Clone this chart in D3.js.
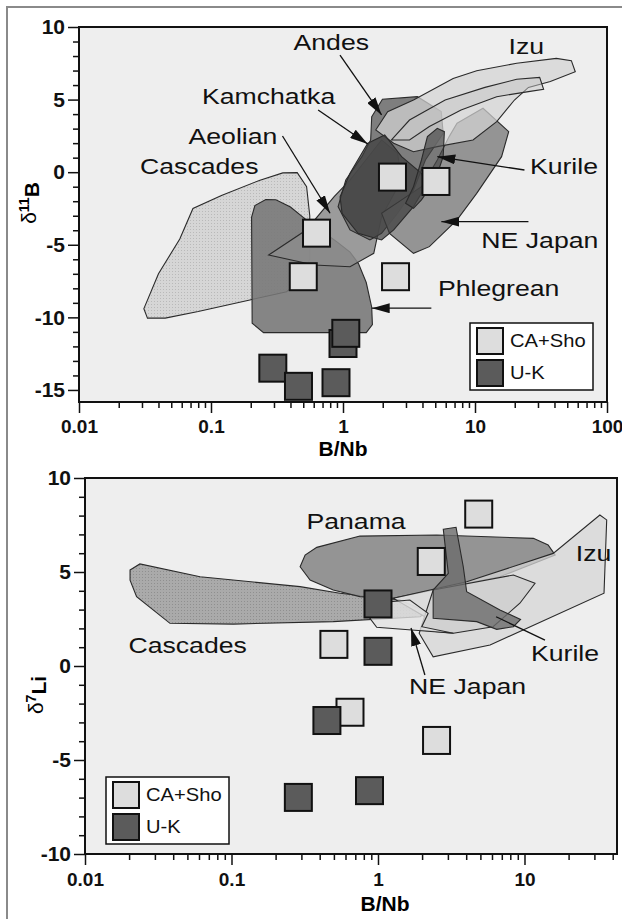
<!DOCTYPE html>
<html lang="en">
<head>
<meta charset="UTF-8">
<title>B/Nb vs d11B and d7Li</title>
<style>
    body { margin: 0; background: #fff; }
    svg { display: block; font-family: "Liberation Sans", Arial, sans-serif; }
    .field { stroke: #2a2a2a; stroke-width: 1.1; }
    .sq { stroke: #111; stroke-width: 2; }
    .caSho { fill: #dddddd; }
    .uK { fill: #5b5b5b; }
    .arrow { stroke: #111; stroke-width: 1.3; fill: none; }
    .tick line { stroke: #111; stroke-width: 1.5; }
    .tick text { font-weight: bold; fill: #111; }
</style>
</head>
<body>
<script src="https://d3js.org/d3.v7.min.js"></script>
<script>

// ---------- top panel: B/Nb vs d11B ----------
var boronCaSho = [[2.37, -0.34], [5.06, -0.64], [0.63, -4.2], [0.50, -7.2], [2.5, -7.2]];
var boronUK = [[1.0, -11.8], [1.05, -11.1], [0.294, -13.5], [0.46, -14.75], [0.885, -14.5]];

var bCascades = [[0.033,-10.05],[0.031,-9.4],[0.040,-7.0],[0.058,-4.6],[0.073,-2.5],[0.12,-1.6],[0.235,-0.55],[0.35,-0.05],[0.45,-0.03],[0.53,-1.0],[0.56,-3.0],[0.56,-6.0],[0.45,-7.6],[0.374,-8.23],[0.197,-8.8],[0.08,-9.6],[0.045,-10.05]];
var bPhlegrean = [[0.203,-3.1],[0.215,-2.3],[0.26,-1.88],[0.31,-1.9],[0.4,-2.4],[0.53,-3.3],[0.9,-4.8],[1.13,-5.5],[1.31,-6.3],[1.5,-7.6],[1.65,-9.3],[1.67,-10.5],[1.5,-11.05],[0.25,-11.05],[0.205,-10.4]];
var bAeolian = [[0.2735,-5.7],[0.527,-3.98],[0.857,-1.69],[1.13,-0.54],[1.49,0.84],[1.96,2.22],[2.59,1.3],[2.78,-0.54],[1.96,-3.06],[1.71,-5.59],[1.13,-6.51],[0.605,-6.39]];
var bAndes = [[1.65,3.82],[1.99,5.02],[3.66,5.2],[5.55,4.17],[5.74,2.68],[4.21,0.84],[3.42,-1.23],[2.59,-2.83],[1.96,-4.21],[1.6,-4.67],[1.13,-3.98],[0.918,-2.37],[1.05,-0.54],[1.39,1.07],[1.62,2.22]];
var bNEJapan = [[7.31,3.37],[11.5,4.4],[18.0,2.79],[15.9,1.07],[10.3,-1.46],[7.31,-3.29],[4.51,-5.13],[3.42,-5.59],[2.25,-4.21],[1.96,-2.83],[2.78,-1.91],[3.93,-1.0],[5.18,0.84],[6.37,2.45]];
var bIzu = [[1.77,2.91],[2.18,4.17],[3.42,4.97],[6.83,6.46],[10.3,6.99],[20.7,7.5],[41.3,7.84],[53.7,7.68],[57.5,6.92],[37.2,6.24],[25.4,5.84],[19.9,4.97],[14.6,3.48],[9.66,2.22],[5.18,1.76],[3.42,1.41],[2.42,1.99]];
var bIzuInner = [[2.33,2.22],[3.19,3.59],[5.94,4.97],[11.9,5.84],[20.7,6.4],[30.9,6.53],[33.1,5.71],[25.4,5.55],[14.6,5.2],[7.84,4.28],[4.51,3.14],[3.19,2.22]];
var bKamchatka = [[1.54,1.99],[2.07,2.56],[2.78,1.07],[3.93,-0.08],[4.21,-1.0],[3.42,-2.37],[2.42,-3.98],[1.96,-4.67],[1.3,-4.21],[0.984,-2.83],[0.95,-1.69],[1.13,-0.08]];
var bKurile = [[3.93,0.84],[4.36,2.45],[5.18,3.02],[5.86,2.79],[5.74,1.07],[5.0,-0.54],[3.93,-1.91],[3.42,-2.49],[2.98,-2.14],[3.42,-1.0]];

var bLabels = ["Izu", "Andes", "Kamchatka", "Aeolian", "Cascades", "Kurile", "NE Japan", "Phlegrean"];
var bLabelAt = [[24.5,8.64],[0.815,8.92],[0.273,5.2],[0.1466,2.49],[0.0815,0.38],[47.2,0.44],[31.0,-4.67],[15.1,-8.03]];
var bArrowFrom = [[0.949,8.07],[0.648,4.28],[0.348,2.49],[23.7,0.15],[25.4,-3.41],[4.67,-9.37]];
var bArrowTo = [[1.96,3.94],[1.54,1.94],[0.798,-2.83],[5.18,1.07],[5.56,-3.41],[1.65,-9.37]];

// ---------- bottom panel: B/Nb vs d7Li ----------
var lithiumCaSho = [[4.87, 8.08], [2.31, 5.56], [0.50, 1.15], [0.644, -2.46], [2.51, -3.96]];
var lithiumUK = [[1.0, 3.3], [1.0, 0.78], [0.448, -2.9], [0.286, -6.99], [0.875, -6.63]];

var lCascades = [[0.0203,5.11],[0.0237,5.43],[0.061,4.75],[0.294,4.22],[0.55,3.87],[1.41,3.51],[2.15,2.89],[1.94,2.62],[0.495,2.36],[0.103,2.23],[0.038,2.27],[0.0225,3.69],[0.0203,4.57]];
var lPanama = [[0.294,5.28],[0.318,5.9],[0.382,6.31],[0.753,6.91],[2.52,6.97],[11.5,6.79],[14.5,6.44],[16.2,5.9],[6.8,4.75],[2.38,4.04],[1.27,3.6],[0.753,3.69],[0.495,4.04],[0.344,4.57]];
var lIzu = [[1.27,3.6],[4.03,4.48],[15.7,5.99],[32.7,8.03],[36.4,7.77],[34.9,3.87],[5.82,1.12],[2.38,0.49],[1.91,1.74],[2.09,2.62]];
var lKurile = [[2.38,4.04],[8.4,4.84],[11.8,4.4],[9.3,3.34],[6.1,2.09],[3.27,1.74],[1.94,1.91]];
var lNEJapan = [[0.881,2.54],[1.21,3.42],[1.65,3.51],[2.2,2.8],[1.99,2.09],[3.27,1.74],[0.98,2.06]];
var lKurileDark = [[2.79,7.27],[3.41,7.38],[3.82,5.28],[4.03,3.95],[6.8,2.98],[9.4,2.48],[8.4,2.09],[6.46,1.95],[4.72,2.36],[2.38,2.54],[2.38,4.04],[3.02,4.93]];

var lLabels = ["Panama", "Izu", "Cascades", "Kurile", "NE Japan"];
var lLabelAt = [[0.708,7.68],[29.6,6.01],[0.0502,1.12],[18.9,0.69],[4.09,-1.10]];
var lArrowFrom = [[2.09,-0.48],[13.8,1.38]];
var lArrowTo = [[1.68,2.02],[6.4,2.62]];

// tick labels
var xTicksTop = [0.01, 0.1, 1, 10, 100];
var xTickNamesTop = ["0.01", "0.1", "1", "10", "100"];
var xTicksBot = [0.01, 0.1, 1, 10];
var xTickNamesBot = ["0.01", "0.1", "1", "10"];
var yTicksTop = [10, 5, 0, -5, -10, -15];
var yTicksBot = [10, 5, 0, -5, -10];
var legendNames = ["CA+Sho", "U-K"];

var svg = d3.select("body").append("svg")
    .attr("width", 622)
    .attr("height", 919);

var defs = svg.append("defs");
function stipple(id, base, dot) {
    var p = defs.append("pattern").attr("id", id)
        .attr("width", 3).attr("height", 3).attr("patternUnits", "userSpaceOnUse");
    p.append("rect").attr("width", 3).attr("height", 3).attr("fill", base);
    p.append("rect").attr("x", 1).attr("y", 1).attr("width", 1).attr("height", 1).attr("fill", dot);
}
stipple("dotLight", "#d6d6d6", "#b9b9b9");
stipple("dotMid", "#a6a6a6", "#8a8a8a");

defs.append("marker").attr("id", "head")
    .attr("viewBox", "0 0 18 10").attr("refX", 18).attr("refY", 5)
    .attr("markerWidth", 18).attr("markerHeight", 10)
    .attr("markerUnits", "userSpaceOnUse").attr("orient", "auto")
    .append("path").attr("d", "M0,0 L18,5 L0,10 Z").attr("fill", "#111");

// figure frame (left and top edges show)
svg.append("path").attr("d", "M7,919 V7 H622").attr("fill", "none")
    .attr("stroke", "#8a8a8a").attr("stroke-width", 2);

function panel(o) {
    var x = o.x, y = o.y;
    var g = svg.append("g");
    var x0 = x.range()[0], x1 = x.range()[1], y0 = y.range()[0], y1 = y.range()[1];

    g.append("rect").attr("x", x0).attr("y", y1).attr("width", x1 - x0).attr("height", y0 - y1)
        .attr("fill", "#eeeeee");

    var line = d3.line().x(function(d) { return x(d[0]); }).y(function(d) { return y(d[1]); });

    g.selectAll(".field").data(o.fields).join("path")
        .attr("class", "field")
        .attr("d", function(d) { return line(d.pts) + "Z"; })
        .attr("fill", function(d) { return d.fill; })
        .attr("fill-opacity", function(d) { return d.op; });

    // arrows
    o.arrowFrom.forEach(function(a, i) {
        g.append("line").attr("class", "arrow")
            .attr("x1", x(a[0])).attr("y1", y(a[1]))
            .attr("x2", x(o.arrowTo[i][0])).attr("y2", y(o.arrowTo[i][1]))
            .attr("marker-end", o.heads[i] ? "url(#head)" : null);
    });

    // region labels
    o.labels.forEach(function(t, i) {
        g.append("text")
            .attr("transform", "translate(" + x(o.labelAt[i][0]) + "," + y(o.labelAt[i][1]) + ") scale(1.24,1)")
            .attr("text-anchor", "middle").attr("dy", "0.36em")
            .style("font-size", "21.5px").attr("fill", "#111")
            .text(t);
    });

    // samples
    var s = 27;
    g.selectAll(".ca").data(o.caSho).join("rect").attr("class", "sq caSho")
        .attr("x", function(d) { return x(d[0]) - s / 2; })
        .attr("y", function(d) { return y(d[1]) - s / 2; })
        .attr("width", s).attr("height", s);
    g.selectAll(".uk").data(o.uK).join("rect").attr("class", "sq uK")
        .attr("x", function(d) { return x(d[0]) - s / 2; })
        .attr("y", function(d) { return y(d[1]) - s / 2; })
        .attr("width", s).attr("height", s);

    // legend
    var lg = g.append("g").attr("transform", "translate(" + o.legend[0] + "," + o.legend[1] + ")");
    lg.append("rect").attr("width", 123).attr("height", 67)
        .attr("fill", "#fff").attr("stroke", "#111").attr("stroke-width", 1.5);
    legendNames.forEach(function(n, i) {
        lg.append("rect").attr("class", "sq " + (i ? "uK" : "caSho"))
            .attr("x", 7).attr("y", 5 + i * 32).attr("width", 26).attr("height", 26);
        lg.append("text")
            .attr("transform", "translate(40," + (18 + i * 32) + ") scale(1.12,1)")
            .attr("dy", "0.36em").style("font-size", "18px").attr("fill", "#111")
            .text(n);
    });

    // minor ticks
    var minorX = [];
    var d = x.domain();
    for (var e = Math.floor(Math.log10(d[0])); e < Math.log10(d[1]); e++) {
        for (var k = 2; k <= 9; k++) {
            var v = k * Math.pow(10, e);
            if (v > d[0] && v < d[1]) minorX.push(v);
        }
    }
    var minorY = d3.range(Math.ceil(y.domain()[0]), 10, 1).filter(function(v) { return v % 5 !== 0; });

    var ax = g.append("g").attr("transform", "translate(0," + y0 + ")");
    ax.append("g").call(d3.axisBottom(x).tickValues(minorX).tickSize(6).tickFormat(""));
    ax.append("g").call(d3.axisBottom(x).tickValues(o.xTicks).tickSize(11).tickPadding(o.xPad)
        .tickFormat(function(v, i) { return o.xNames[i]; }));
    ax.selectAll("text").style("font-size", "19px");

    var ay = g.append("g").attr("transform", "translate(" + x0 + ",0)");
    ay.append("g").call(d3.axisLeft(y).tickValues(minorY).tickSize(6).tickFormat(""));
    ay.append("g").call(d3.axisLeft(y).tickValues(o.yTicks).tickSize(11).tickPadding(3)
        .tickFormat(function(v) { return String(v); }));
    ay.selectAll("text").style("font-size", "21px");
    g.selectAll(".domain").remove();
    g.selectAll(".tick text").attr("font-family", null);

    // frame
    g.append("rect").attr("x", x0).attr("y", y1).attr("width", x1 - x0).attr("height", y0 - y1)
        .attr("fill", "none").attr("stroke", "#111").attr("stroke-width", 2);

    // axis titles
    g.append("text").attr("x", o.xTitle[0]).attr("y", o.xTitle[1]).attr("dy", "0.36em")
        .attr("text-anchor", "middle").style("font-size", "21px").style("font-weight", "bold")
        .text("B/Nb");
    var yt = g.append("text")
        .attr("transform", "translate(" + o.yTitle[0] + "," + o.yTitle[1] + ") rotate(-90)")
        .attr("text-anchor", "middle").attr("dy", "0.36em")
        .style("font-size", "21px").style("font-weight", "bold");
    yt.append("tspan").style("font-weight", "normal").text("δ");
    yt.append("tspan").attr("dy", "-0.45em").style("font-size", "14px").text(o.yIso[0]);
    yt.append("tspan").attr("dy", "0.45em").text(o.yIso[1]);
}

panel({
    x: d3.scaleLog().domain([0.01, 100]).range([79, 607]),
    y: d3.scaleLinear().domain([-15.83, 10]).range([402, 27]),
    fields: [
        {pts: bCascades, fill: "url(#dotLight)", op: 1},
        {pts: bPhlegrean, fill: "#767676", op: 0.88},
        {pts: bAeolian, fill: "#8c8c8c", op: 0.85},
        {pts: bAndes, fill: "#6a6a6a", op: 0.85},
        {pts: bNEJapan, fill: "#8a8a8a", op: 0.9},
        {pts: bIzu, fill: "#d4d4d4", op: 0.72},
        {pts: bIzuInner, fill: "#c6c6c6", op: 0.5},
        {pts: bKamchatka, fill: "#3c3c3c", op: 0.7},
        {pts: bKurile, fill: "#474747", op: 0.7}
    ],
    caSho: boronCaSho, uK: boronUK,
    labels: bLabels, labelAt: bLabelAt,
    arrowFrom: bArrowFrom, arrowTo: bArrowTo, heads: [1, 1, 1, 1, 1, 1],
    legend: [470, 323],
    xTicks: xTicksTop, xNames: xTickNamesTop, xPad: 7,
    yTicks: yTicksTop,
    xTitle: [343, 448], yTitle: [28, 203], yIso: ["11", "B"]
});

panel({
    x: d3.scaleLog().domain([0.01, 42.8]).range([85, 617]),
    y: d3.scaleLinear().domain([-10, 10]).range([854, 478]),
    fields: [
        {pts: lCascades, fill: "url(#dotMid)", op: 0.95},
        {pts: lPanama, fill: "#8c8c8c", op: 0.92},
        {pts: lIzu, fill: "#d6d6d6", op: 0.75},
        {pts: lKurile, fill: "#cccccc", op: 0.7},
        {pts: lNEJapan, fill: "#e2e2e2", op: 0.8},
        {pts: lKurileDark, fill: "#6c6c6c", op: 0.8}
    ],
    caSho: lithiumCaSho, uK: lithiumUK,
    labels: lLabels, labelAt: lLabelAt,
    arrowFrom: lArrowFrom, arrowTo: lArrowTo, heads: [1, 0],
    legend: [106, 777],
    xTicks: xTicksBot, xNames: xTickNamesBot, xPad: 8,
    yTicks: yTicksBot,
    xTitle: [385, 903], yTitle: [35, 695], yIso: ["7", "Li"]
});

</script>
</body>
</html>
